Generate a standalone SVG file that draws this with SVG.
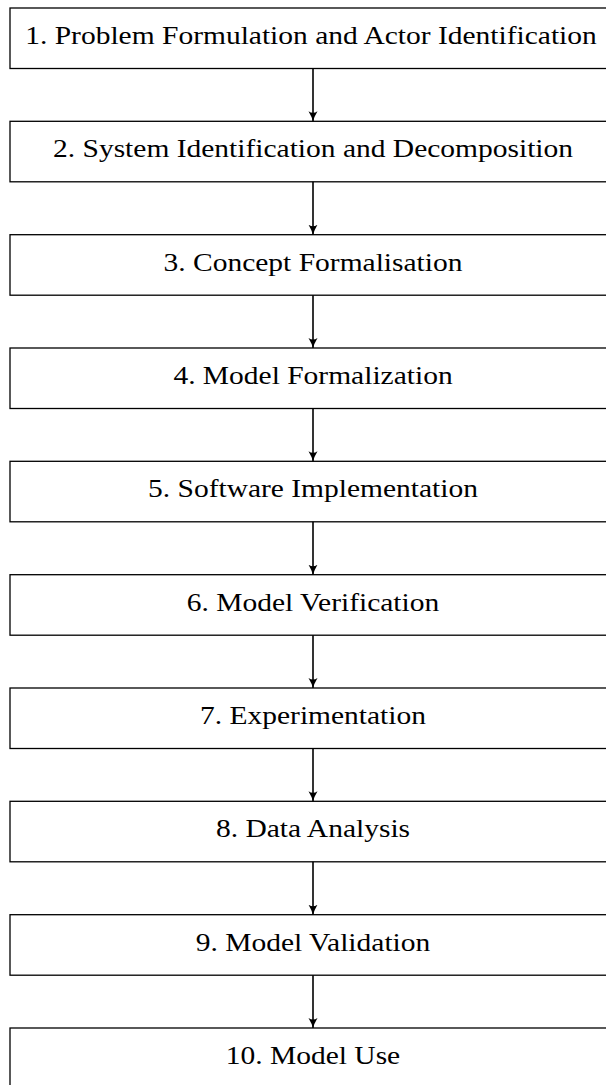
<svg xmlns="http://www.w3.org/2000/svg" width="606" height="1085" viewBox="0 0 606 1085">
  <style>
    .box { fill: #ffffff; stroke: #000000; stroke-width: 1.3; }
    .label { font-family: "Liberation Serif", "Times New Roman", serif; font-size: 25px; fill: #000000; text-anchor: middle; }
    .link { stroke: #000000; stroke-width: 1.6; fill: none; marker-end: url(#head); }
  </style>
  <defs>
    <marker id="head" viewBox="0 0 10 10" refX="10" refY="5" markerWidth="10" markerHeight="10" markerUnits="userSpaceOnUse" orient="auto">
      <path d="M0,0.5 Q6,4 10,5 Q6,6 0,9.5 Q3,5 0,0.5 Z" fill="#000000"/>
    </marker>
  </defs>
  <rect width="606" height="1085" fill="#ffffff"/>

  <!-- process steps: labels widened to book-face proportions -->
  <g id="step1"><rect class="box" x="10" y="8" width="606" height="60.5"/><text class="label" transform="translate(311,44) scale(1.18,1)">1. Problem Formulation and Actor Identification</text></g>
  <g id="step2"><rect class="box" x="10" y="121.3" width="606" height="60.5"/><text class="label" transform="translate(313,157.2) scale(1.18,1)">2. System Identification and Decomposition</text></g>
  <g id="step3"><rect class="box" x="10" y="234.7" width="606" height="60.5"/><text class="label" transform="translate(313,270.5) scale(1.18,1)">3. Concept Formalisation</text></g>
  <g id="step4"><rect class="box" x="10" y="348" width="606" height="60.5"/><text class="label" transform="translate(313,383.8) scale(1.18,1)">4. Model Formalization</text></g>
  <g id="step5"><rect class="box" x="10" y="461.3" width="606" height="60.5"/><text class="label" transform="translate(313,497.2) scale(1.18,1)">5. Software Implementation</text></g>
  <g id="step6"><rect class="box" x="10" y="574.7" width="606" height="60.5"/><text class="label" transform="translate(313,610.5) scale(1.18,1)">6. Model Verification</text></g>
  <g id="step7"><rect class="box" x="10" y="688" width="606" height="60.5"/><text class="label" transform="translate(313,723.8) scale(1.18,1)">7. Experimentation</text></g>
  <g id="step8"><rect class="box" x="10" y="801.3" width="606" height="60.5"/><text class="label" transform="translate(313,837.2) scale(1.18,1)">8. Data Analysis</text></g>
  <g id="step9"><rect class="box" x="10" y="914.7" width="606" height="60.5"/><text class="label" transform="translate(313,950.5) scale(1.18,1)">9. Model Validation</text></g>
  <g id="step10"><rect class="box" x="10" y="1028" width="606" height="60.5"/><text class="label" transform="translate(313,1063.8) scale(1.18,1)">10. Model Use</text></g>

  <!-- connectors -->
  <g id="connectors">
    <line class="link" x1="313" y1="68.5" x2="313" y2="121.3"/>
    <line class="link" x1="313" y1="181.8" x2="313" y2="234.7"/>
    <line class="link" x1="313" y1="295.2" x2="313" y2="348"/>
    <line class="link" x1="313" y1="408.5" x2="313" y2="461.3"/>
    <line class="link" x1="313" y1="521.8" x2="313" y2="574.7"/>
    <line class="link" x1="313" y1="635.2" x2="313" y2="688"/>
    <line class="link" x1="313" y1="748.5" x2="313" y2="801.3"/>
    <line class="link" x1="313" y1="861.8" x2="313" y2="914.7"/>
    <line class="link" x1="313" y1="975.2" x2="313" y2="1028"/>
  </g>
</svg>
